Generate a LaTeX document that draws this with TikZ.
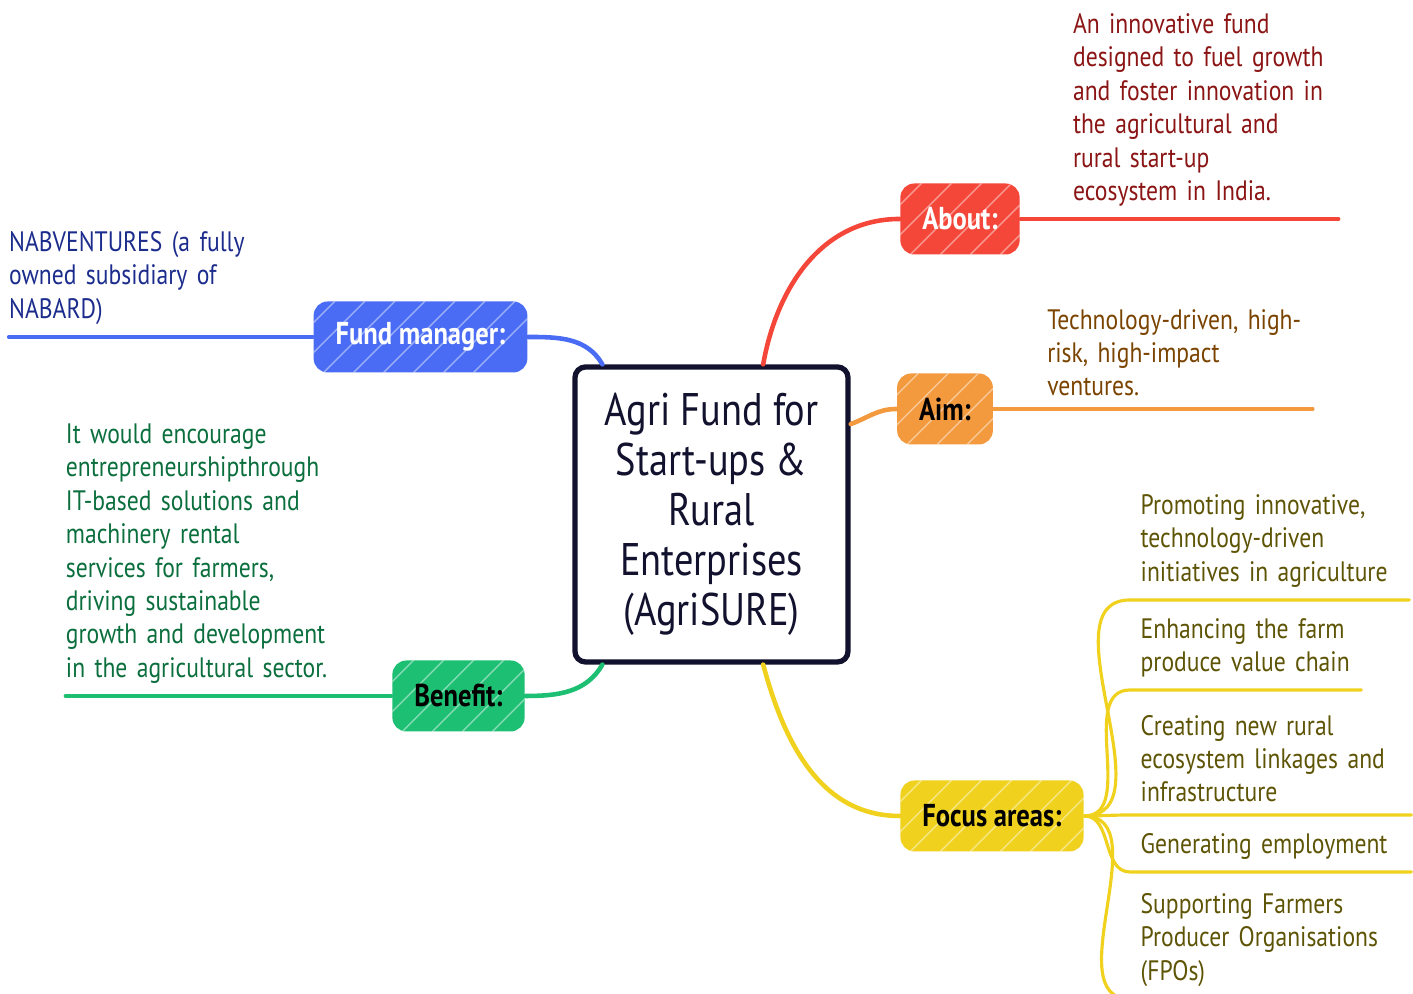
\documentclass[tikz,border=0pt]{standalone}
\usepackage{fontspec}
\setmainfont{PT Sans}[FakeStretch=0.84]
\usetikzlibrary{positioning,calc}

\definecolor{hubink}{HTML}{12122E}
\definecolor{aboutred}{HTML}{F4473A}
\definecolor{fundblue}{HTML}{4A6CF4}
\definecolor{aimorange}{HTML}{F39A3E}
\definecolor{benefitgreen}{HTML}{1DBF73}
\definecolor{focusyellow}{HTML}{F0D21E}
\definecolor{abouttext}{HTML}{8B1414}
\definecolor{fundtext}{HTML}{1B2C8C}
\definecolor{aimtext}{HTML}{7A4300}
\definecolor{benefittext}{HTML}{0B6E3D}
\definecolor{focustext}{HTML}{5E5406}

\begin{document}
\begin{tikzpicture}[
    hub/.style={draw=hubink, line width=1.5pt, rounded corners=3pt, fill=white,
        minimum width=2.73cm, minimum height=2.95cm, align=center, text=hubink,
        font=\fontsize{13}{14.2}\selectfont},
    branch/.style={rounded corners=4pt, inner xsep=0.22cm, minimum height=0.71cm,
        font=\fontsize{9}{10}\selectfont\bfseries,
        path picture={\foreach \k in {0,...,7}
            \draw[white, opacity=0.45, line width=0.4pt]
            ($(path picture bounding box.south west)+(\k*0.3-0.5,0)$) -- ++(0.75,0.75);}},
    leaf/.style={align=left, inner xsep=0pt, inner ysep=0.12cm,
        font=\fontsize{8}{9.5}\selectfont,
        execute at begin node={\hyphenpenalty=10000}},
    bline/.style={line width=1.3pt, line cap=round},
    lline/.style={line width=0.9pt, line cap=round}
]
    \useasboundingbox (0,0) rectangle (14.13,9.94);

    % Central topic
    \node[hub] (hub) at (7.115,4.795) {Agri Fund for\\Start-ups \&\\Rural\\Enterprises\\(AgriSURE)};

    % Branches
    \node[branch, fill=aboutred, text=white] (about) at (9.60,7.75) {About:};
    \node[branch, fill=fundblue, text=white] (fund) at (4.205,6.57) {Fund manager:};
    \node[branch, fill=aimorange, text=black] (aim) at (9.45,5.85) {Aim:};
    \node[branch, fill=benefitgreen, text=black] (benefit) at (4.585,2.98) {Benefit:};
    \node[branch, fill=focusyellow, text=black] (focus) at (9.92,1.78) {Focus areas:};

    \draw[bline, aboutred] (hub.71) to[out=80, in=180] (about.west);
    \draw[bline, fundblue] (hub.126) to[out=120, in=0] (fund.east);
    \draw[bline, aimorange] (hub.33) to[out=20, in=180] (aim.west);
    \draw[bline, benefitgreen] (hub.234) to[out=240, in=0] (benefit.east);
    \draw[bline, focusyellow] (hub.289) to[out=285, in=180] (focus.west);

    % Leaves
    \node[leaf, text=abouttext, text width=2.65cm, right=0.52cm of about.east, anchor=south west] (aboutleaf)
        {An innovative fund\\designed to fuel growth\\and foster innovation in\\the agricultural and\\rural start-up\\ecosystem in India.};
    \draw[lline, aboutred] (about.east) -- (aboutleaf.south east);

    \node[leaf, text=fundtext, text width=2.73cm, left=0.3cm of fund.west, anchor=south east] (fundleaf)
        {NABVENTURES (a fully\\owned subsidiary of\\NABARD)};
    \draw[lline, fundblue] (fund.west) -- (fundleaf.south west);

    \node[leaf, text=aimtext, text width=2.65cm, right=0.53cm of aim.east, anchor=south west] (aimleaf)
        {Technology-driven, high-\\risk, high-impact\\ventures.};
    \draw[lline, aimorange] (aim.east) -- (aimleaf.south east);

    \node[leaf, text=benefittext, text width=3.0cm, left=0.25cm of benefit.west, anchor=south east] (benefitleaf)
        {It would encourage\\entrepreneurshipthrough\\IT-based solutions and\\machinery rental\\services for farmers,\\driving sustainable\\growth and development\\in the agricultural sector.};
    \draw[lline, benefitgreen] (benefit.west) -- (benefitleaf.south west);

    % Focus areas
    \node[leaf, text=focustext, inner xsep=0.1cm, text width=2.58cm, anchor=south west] (promote) at (11.30,3.94)
        {Promoting innovative,\\technology-driven\\initiatives in agriculture};
    \node[leaf, text=focustext, inner xsep=0.1cm, text width=2.1cm, anchor=south west] (enhance) at (11.30,3.04)
        {Enhancing the farm\\produce value chain};
    \node[leaf, text=focustext, inner xsep=0.1cm, text width=2.6cm, anchor=south west] (create) at (11.30,1.79)
        {Creating new rural\\ecosystem linkages and\\infrastructure};
    \node[leaf, text=focustext, inner xsep=0.1cm, text width=2.6cm, anchor=south west] (employ) at (11.30,1.22)
        {Generating employment};
    \node[leaf, text=focustext, inner xsep=0.1cm, text width=2.6cm, anchor=south west] (fpo) at (11.30,-0.05)
        {Supporting Farmers\\Producer Organisations\\(FPOs)};

    \foreach \f in {promote,enhance,create,employ,fpo}
        \draw[lline, focusyellow] (focus.east) to[out=0, in=180] (\f.south west) -- (\f.south east);
\end{tikzpicture}
\end{document}
